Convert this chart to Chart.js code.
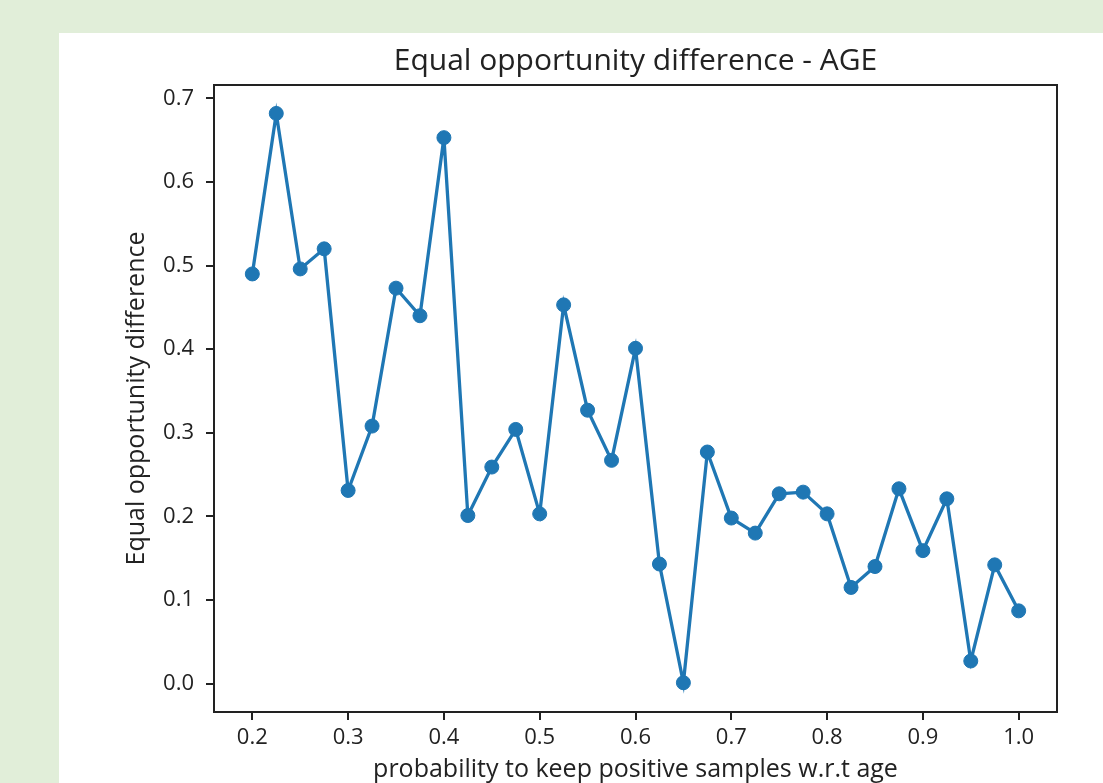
<!DOCTYPE html>
<html>
<head>
<meta charset="utf-8">
<title>Equal opportunity difference - AGE</title>
<script src="https://cdn.jsdelivr.net/npm/chart.js@4/dist/chart.umd.min.js"></script>
<style>
  html, body { margin: 0; padding: 0; background: #e1eed9; }
  canvas { display: block; }
</style>
</head>
<body>
<canvas id="chart" width="1103" height="783"></canvas>
<script>
// Probability of keeping positive samples (w.r.t. age)
const keepProb = [
  0.2, 0.225, 0.25, 0.275, 0.3, 0.325, 0.35, 0.375, 0.4, 0.425, 0.45,
  0.475, 0.5, 0.525, 0.55, 0.575, 0.6, 0.625, 0.65, 0.675, 0.7, 0.725,
  0.75, 0.775, 0.8, 0.825, 0.85, 0.875, 0.9, 0.925, 0.95, 0.975, 1.0
];
// Equal opportunity difference for each probability
const eqOppDiff = [
  0.490, 0.682, 0.496, 0.520, 0.231, 0.308, 0.473, 0.440, 0.653, 0.201, 0.259,
  0.304, 0.203, 0.453, 0.327, 0.267, 0.401, 0.143, 0.001, 0.277, 0.198, 0.180,
  0.227, 0.229, 0.203, 0.115, 0.140, 0.233, 0.159, 0.221, 0.027, 0.142, 0.087
];
const xTicks = [0.2, 0.3, 0.4, 0.5, 0.6, 0.7, 0.8, 0.9, 1.0];
const yTicks = [0.0, 0.1, 0.2, 0.3, 0.4, 0.5, 0.6, 0.7];

const FONT = "'Open Sans', 'Noto Sans', sans-serif";
const INK = '#222222';
const BLUE = '#1f77b4';

// Page backdrop with a white card behind the figure
const backdrop = {
  id: 'backdrop',
  beforeDraw(chart) {
    const { ctx, width, height } = chart;
    ctx.save();
    ctx.fillStyle = '#e1eed9';
    ctx.fillRect(0, 0, width, height);
    ctx.fillStyle = '#ffffff';
    ctx.fillRect(59, 33, width - 59, height - 33);
    ctx.restore();
  }
};

// Full rectangular frame around the plotting area
const frame = {
  id: 'frame',
  afterDraw(chart) {
    const { ctx, chartArea: a } = chart;
    ctx.save();
    ctx.strokeStyle = INK;
    ctx.lineWidth = 2;
    ctx.strokeRect(a.left, a.top, a.right - a.left, a.bottom - a.top);
    ctx.restore();
  }
};

new Chart(document.getElementById('chart'), {
  type: 'line',
  data: {
    datasets: [{
      data: keepProb.map((x, i) => ({ x, y: eqOppDiff[i] })),
      borderColor: BLUE,
      borderWidth: 3.3,
      backgroundColor: BLUE,
      pointBackgroundColor: BLUE,
      pointBorderColor: BLUE,
      pointBorderWidth: 1,
      pointRadius: 7,
      tension: 0,
      fill: false
    }]
  },
  options: {
    responsive: false,
    animation: false,
    layout: { padding: { left: 0, right: 46, top: 33, bottom: 0 } },
    plugins: {
      legend: { display: false },
      tooltip: { enabled: false },
      title: {
        display: true,
        fullSize: false,
        text: 'Equal opportunity difference - AGE',
        color: INK,
        font: { family: FONT, size: 30, weight: 'normal', lineHeight: 1.2 },
        padding: { top: 10, bottom: 6 }
      }
    },
    scales: {
      x: {
        type: 'linear',
        min: 0.16,
        max: 1.04,
        afterBuildTicks(scale) { scale.ticks = xTicks.map(v => ({ value: v })); },
        afterFit(scale) { scale.height = 71; },
        border: { display: false },
        grid: { drawOnChartArea: false, drawTicks: true, tickLength: 8, color: INK, lineWidth: 2 },
        ticks: {
          color: INK,
          padding: 5,
          maxRotation: 0,
          font: { family: FONT, size: 22 },
          callback: v => Number(v).toFixed(1)
        },
        title: {
          display: true,
          text: 'probability to keep positive samples w.r.t age',
          color: INK,
          font: { family: FONT, size: 25, lineHeight: 1.0 },
          padding: { top: 0, bottom: 1 }
        }
      },
      y: {
        type: 'linear',
        min: -0.034,
        max: 0.716,
        afterBuildTicks(scale) { scale.ticks = yTicks.map(v => ({ value: v })); },
        afterFit(scale) { scale.width = 214; },
        border: { display: false },
        grid: { drawOnChartArea: false, drawTicks: true, tickLength: 8, color: INK, lineWidth: 2 },
        ticks: {
          color: INK,
          padding: 12,
          font: { family: FONT, size: 22 },
          callback: v => Number(v).toFixed(1)
        },
        title: {
          display: true,
          text: 'Equal opportunity difference',
          color: INK,
          font: { family: FONT, size: 25, lineHeight: 1.0 },
          padding: { top: 124, bottom: 0 }
        }
      }
    }
  },
  plugins: [backdrop, frame]
});
</script>
</body>
</html>
